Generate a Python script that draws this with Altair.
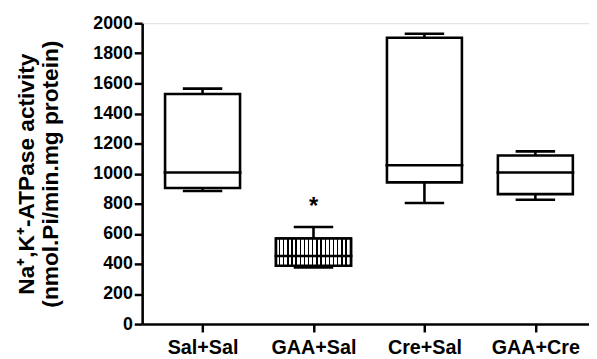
import altair as alt
import pandas as pd

categories = ["Sal+Sal", "GAA+Sal", "Cre+Sal", "GAA+Cre"]
positions = [1, 2, 3, 4]
whisker_max = [1565, 645, 1930, 1148]
q3 = [1530, 569, 1904, 1121]
median = [1008, 452, 1056, 1008]
q1 = [905, 388, 942, 864]
whisker_min = [885, 376, 805, 826]
hatched = [False, True, False, False]
significance = ["", "*", "", ""]
y_ticks = [0, 200, 400, 600, 800, 1000, 1200, 1400, 1600, 1800, 2000]

df = pd.DataFrame({
    "cat": categories, "pos": positions, "wmax": whisker_max, "q3": q3,
    "med": median, "q1": q1, "wmin": whisker_min, "hatched": hatched,
    "sig": significance,
})

FONT = "Liberation Sans"
BOX_W = 76
CAP_W = 40
SW = 2.6

label_expr = ("datum.value == 1 ? 'Sal+Sal' : datum.value == 2 ? 'GAA+Sal' : "
              "datum.value == 3 ? 'Cre+Sal' : datum.value == 4 ? 'GAA+Cre' : ''")

x_scale = alt.Scale(domain=[0.5, 4.439], nice=False, zero=False)
x_axis = alt.Axis(values=positions, labelExpr=label_expr, title=None,
                  grid=False, labelFont=FONT, labelFontSize=20,
                  labelFontWeight="bold", labelColor="black",
                  tickColor="black", tickWidth=2.5, tickSize=8,
                  domainColor="black", domainWidth=2.6, labelPadding=6,
                  labelOverlap=False)
y_scale = alt.Scale(domain=[0, 2000], nice=False)
y_axis = alt.Axis(values=y_ticks, format="d", grid=False, labelOverlap=False,
                  title=["Na⁺,K⁺-ATPase activity", "(nmol.Pi/min.mg protein)"],
                  titleFont=FONT, titleFontSize=23, titleFontWeight="bold",
                  titleColor="black", titlePadding=31, titleLineHeight=24,
                  labelFont=FONT, labelFontSize=18, labelFontWeight="bold",
                  labelColor="black", tickColor="black", tickWidth=2.5,
                  tickSize=8, domainColor="black", domainWidth=2.6,
                  labelPadding=2)


def X():
    return alt.X("pos:Q", scale=x_scale, axis=x_axis)


def Y(field):
    return alt.Y(field, scale=y_scale, axis=y_axis)


base = alt.Chart(df)

upper = base.mark_rule(color="black", strokeWidth=SW).encode(
    x=X(), y=Y("wmax:Q"), y2="q3:Q")
lower = base.mark_rule(color="black", strokeWidth=SW).encode(
    x=X(), y=Y("q1:Q"), y2="wmin:Q")
cap_top = base.mark_tick(color="black", orient="horizontal", size=CAP_W,
                         thickness=SW, opacity=1).encode(x=X(), y=Y("wmax:Q"))
cap_bot = base.mark_tick(color="black", orient="horizontal", size=CAP_W,
                         thickness=SW, opacity=1).encode(x=X(), y=Y("wmin:Q"))
box = base.mark_bar(size=BOX_W, fill="white", stroke="black",
                    strokeWidth=SW, opacity=1).encode(x=X(), y=Y("q1:Q"), y2="q3:Q")

n_stripes = 18
stops = []
for i in range(n_stripes):
    a = i / n_stripes
    m = (i + 0.68) / n_stripes
    c = (i + 1) / n_stripes
    stops += [alt.GradientStop(offset=a, color="white"),
              alt.GradientStop(offset=m, color="white"),
              alt.GradientStop(offset=m, color="black"),
              alt.GradientStop(offset=c, color="black")]
hatch = alt.LinearGradient(gradient="linear", stops=stops, x1=0, x2=1, y1=0, y2=0)

box_hatch = base.transform_filter("datum.hatched").mark_bar(
    size=BOX_W, fill=hatch, stroke="black", strokeWidth=SW, opacity=1).encode(
    x=X(), y=Y("q1:Q"), y2="q3:Q")
med = base.mark_tick(color="black", orient="horizontal", size=BOX_W + 3,
                     thickness=SW, opacity=1).encode(x=X(), y=Y("med:Q"))
star = base.mark_text(font=FONT, fontSize=24, fontWeight="bold", dy=-20,
                      baseline="middle", color="black").encode(
    x=X(), y=Y("wmax:Q"), text="sig:N")

chart = alt.layer(upper, lower, cap_top, cap_bot, box, box_hatch, med, star).properties(
    width=453, height=305,
    autosize=alt.AutoSizeParams(type="none"),
    padding={"left": 136, "top": 13, "right": 0, "bottom": 35},
).configure_view(stroke=None).configure(background="white")

chart.save("out.html", embed_options={"renderer": "svg", "actions": False})
